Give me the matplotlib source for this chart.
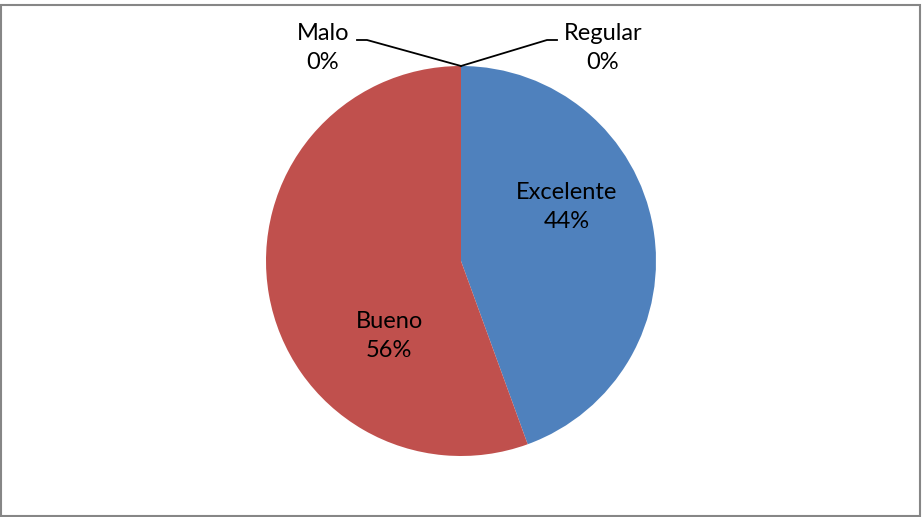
import matplotlib.pyplot as plt
from matplotlib.patches import Rectangle

plt.rcParams['font.family'] = ['Lato', 'DejaVu Sans']

categorias = ['Excelente', 'Bueno', 'Regular', 'Malo']
respuestas = [4, 5, 0, 0]
colores = ['#4F81BD', '#C0504D', '#9BBB59', '#8064A2']
total = sum(respuestas)
porcentajes = [round(v * 100 / total) for v in respuestas]

fig = plt.figure(figsize=(9.22, 5.17), dpi=100)
ax = fig.add_axes([0, 0, 1, 1])

cx, cy, r = 461, 256, 195
wedges, _ = ax.pie(respuestas, colors=colores, startangle=90, counterclock=False,
                   center=(cx, cy), radius=r, frame=True,
                   wedgeprops=dict(linewidth=0))
ax.set_xlim(0, 922)
ax.set_ylim(0, 517)
ax.axis('off')

fs = 17
ls = 1.45
# labels inside
ax.text(cx + 106, cy + 54, f"{categorias[0]}\n{porcentajes[0]}%", ha='center', va='center',
        fontsize=fs, linespacing=ls)
ax.text(cx - 72, cy - 75, f"{categorias[1]}\n{porcentajes[1]}%", ha='center', va='center',
        fontsize=fs, linespacing=ls)

# zero slices with leader lines
top = (cx, cy + r)
ax.plot([top[0], cx + 86, cx + 96], [top[1], cy + 221, cy + 221], color='black', lw=1.3)
ax.plot([top[0], cx - 94, cx - 104], [top[1], cy + 221, cy + 221], color='black', lw=1.3)
ax.text(cx + 142, cy + 213, f"{categorias[2]}\n{porcentajes[2]}%", ha='center', va='center',
        fontsize=fs, linespacing=ls)
ax.text(cx - 138, cy + 213, f"{categorias[3]}\n{porcentajes[3]}%", ha='center', va='center',
        fontsize=fs, linespacing=ls)

# chart border
fig.patches.append(Rectangle((0.001, 0.002), 0.997, 0.988, transform=fig.transFigure,
                             fill=False, edgecolor='#868686', lw=1.5))

fig.savefig('out.png', dpi=100)
